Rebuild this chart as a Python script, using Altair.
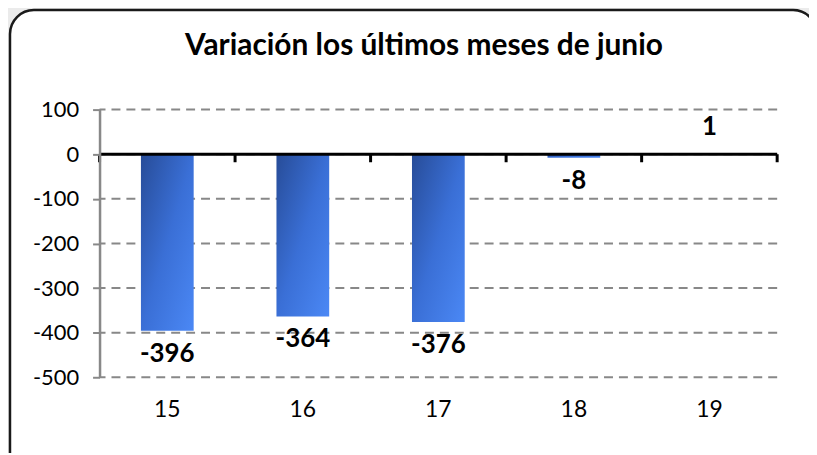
import altair as alt
import pandas as pd

years = ["15", "16", "17", "18", "19"]
values = [-396, -364, -376, -8, 1]
title_text = "Variación los últimos meses de junio"
y_ticks = [100, 0, -100, -200, -300, -400, -500]

df = pd.DataFrame({"year": years, "value": values})
df["label"] = df["value"].astype(str)
grid_df = pd.DataFrame({"g": y_ticks})

FONT = "Lato"
W, H = 681, 269

xscale = alt.Scale(domain=years, paddingInner=0, paddingOuter=0)
yscale = alt.Scale(domain=[-500, 100], nice=False, zero=False)

base = alt.Chart(df)

frame = base.mark_rect(
    fill="white", stroke="#1a1a1a", strokeWidth=2.5, cornerRadius=24, clip=False
).encode(
    x=alt.value(-90), x2=alt.value(W + 40), y=alt.value(-100), y2=alt.value(H + 120)
).transform_filter(alt.datum.year == "15")

grid = alt.Chart(grid_df).mark_rule(
    color="#888", strokeWidth=2, strokeDash=[9, 6]
).encode(y=alt.Y("g:Q", scale=yscale, title=None))

gradient = alt.Gradient(
    gradient="linear", x1=0, y1=0, x2=1, y2=1,
    stops=[alt.GradientStop(color="#274c98", offset=0),
           alt.GradientStop(color="#3a6fd6", offset=0.5),
           alt.GradientStop(color="#4b88f5", offset=1)],
)

bars = base.mark_bar(size=53, color=gradient).encode(
    x=alt.X("year:N", scale=xscale, sort=years, title=None,
            axis=alt.Axis(zindex=2, domain=False, ticks=False, labelAngle=0,
                          labelFont=FONT, labelFontSize=23, labelColor="#000",
                          labelPadding=21, labelBaseline="top")),
    y=alt.Y("value:Q", scale=yscale, title=None,
            axis=alt.Axis(zindex=2, values=y_ticks, labelExpr="'' + datum.value",
                          labelFont=FONT, labelFontSize=22, labelColor="#000",
                          labelPadding=14, tickSize=7, tickColor="#888",
                          tickWidth=2, domainColor="#888", domainWidth=2.5,
                          grid=False)),
    y2=alt.datum(0),
)

zero_line = alt.Chart(pd.DataFrame({"z": [0]})).mark_rule(
    color="black", strokeWidth=3
).encode(y=alt.Y("z:Q", scale=yscale, title=None))

ticks = base.mark_rule(color="black", strokeWidth=3).encode(
    x=alt.X("year:N", scale=xscale, sort=years, bandPosition=0, title=None),
    y=alt.datum(0), y2=alt.datum(-18),
)
last_tick = base.mark_rule(color="black", strokeWidth=3).encode(
    x=alt.X("year:N", scale=xscale, sort=years, bandPosition=1, title=None),
    y=alt.datum(0), y2=alt.datum(-18),
).transform_filter(alt.datum.year == years[-1])

neg_labels = base.mark_text(
    font=FONT, fontSize=26, fontWeight="bold", baseline="top", dy=10, color="#000"
).encode(
    x=alt.X("year:N", scale=xscale, sort=years, title=None),
    y=alt.Y("value:Q", scale=yscale, title=None),
    text="label:N",
).transform_filter(alt.datum.value < 0)

pos_labels = base.mark_text(
    font=FONT, fontSize=26, fontWeight="bold", baseline="bottom", dy=-14, color="#000"
).encode(
    x=alt.X("year:N", scale=xscale, sort=years, title=None),
    y=alt.Y("value:Q", scale=yscale, title=None),
    text="label:N",
).transform_filter(alt.datum.value >= 0)

title = base.mark_text(
    font=FONT, fontSize=30, fontWeight="bold", color="#000", baseline="middle"
).encode(
    x=alt.value(326), y=alt.value(-64), text=alt.value(title_text)
).transform_filter(alt.datum.year == "15")

chart = alt.layer(
    frame, grid, bars, zero_line, ticks, last_tick, neg_labels, pos_labels, title
).properties(
    width=W, height=H,
    autosize=alt.AutoSizeParams(type="none"),
    padding={"left": 92, "top": 101, "right": 32, "bottom": 75},
    background="#ebebeb",
).configure_view(
    stroke=None
).configure_axis(
    labelFont=FONT, labelColor="#000", grid=False
).configure_axisX(
    domain=False, ticks=False, labelAngle=0, labelFontSize=23,
    labelPadding=21, labelBaseline="top"
).configure_axisY(
    labelFontSize=22, labelPadding=14, tickSize=7, tickColor="#888",
    tickWidth=2, domainColor="#888", domainWidth=2.5
)

chart.save("out.html", embed_options={"renderer": "svg", "actions": False})
